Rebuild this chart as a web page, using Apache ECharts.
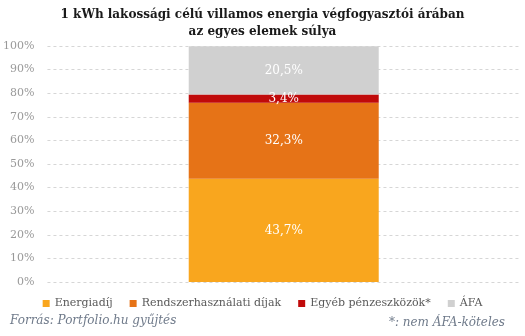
<!DOCTYPE html>
<html>
<head>
<meta charset="utf-8">
<script src="https://cdn.jsdelivr.net/npm/echarts@6/dist/echarts.min.js"></script>
<style>
  html, body { margin: 0; padding: 0; background: #fff; }
  #chart { width: 525px; height: 336px; }
</style>
</head>
<body>
<div id="chart"></div>
<script>
// Share of each price component in 1 kWh of household electricity (%)
const categories = ['1 kWh'];
const seriesNames = ['Energiadíj', 'Rendszerhasználati díjak', 'Egyéb pénzeszközök*', 'ÁFA'];
const energiadij = [43.7];
const rendszerhasznalati = [32.3];
const egyeb = [3.4];
const afa = [20.5];
const yTicks = [0, 10, 20, 30, 40, 50, 60, 70, 80, 90, 100];

const colors = ['#F9A61E', '#E67317', '#C00A0A', '#D0D0D0'];
const serif = '"DejaVu Serif", "Liberation Serif", serif';

const values = [energiadij, rendszerhasznalati, egyeb, afa];

const chart = echarts.init(document.getElementById('chart'), null, { renderer: 'canvas' });

chart.setOption({
  animation: false,
  textStyle: { fontFamily: serif },
  title: {
    text: '1 kWh lakossági célú villamos energia végfogyasztói árában\naz egyes elemek súlya',
    left: 'center',
    top: 1,
    textStyle: {
      fontFamily: serif,
      fontSize: 12,
      fontWeight: 'bold',
      color: '#1a1a1a',
      lineHeight: 17
    }
  },
  legend: {
    data: seriesNames,
    top: 293,
    left: 'center',
    itemWidth: 7,
    itemHeight: 7,
    itemGap: 17,
    icon: 'rect',
    textStyle: { fontFamily: serif, fontSize: 11, color: '#595959' }
  },
  grid: { left: 43, right: 5, top: 46, bottom: 54 },
  xAxis: {
    type: 'category',
    data: categories,
    axisLine: { show: false },
    axisTick: { show: false },
    axisLabel: { show: false }
  },
  yAxis: {
    type: 'value',
    min: yTicks[0],
    max: yTicks[yTicks.length - 1],
    interval: 10,
    axisLine: { show: false },
    axisTick: { show: false },
    axisLabel: {
      formatter: '{value}%',
      fontFamily: serif,
      fontSize: 11,
      color: '#999999',
      margin: 13
    },
    splitLine: { lineStyle: { color: '#d6d6d6', type: [3, 3], width: 1 } }
  },
  series: seriesNames.map((name, i) => ({
    name: name,
    type: 'bar',
    stack: 'total',
    barWidth: 190,
    data: values[i],
    itemStyle: { color: colors[i] },
    label: {
      show: true,
      position: 'inside',
      formatter: p => String(p.value).replace('.', ',') + '%',
      fontFamily: serif,
      fontSize: 12,
      color: '#ffffff'
    }
  })),
  graphic: [
    {
      type: 'text',
      left: 10,
      top: 315,
      style: {
        text: 'Forrás: Portfolio.hu gyűjtés',
        fontFamily: serif,
        fontStyle: 'italic',
        fontSize: 12,
        fill: '#6f7a8a'
      }
    },
    {
      type: 'text',
      right: 20,
      top: 317,
      style: {
        text: '*: nem ÁFA-köteles',
        fontFamily: serif,
        fontStyle: 'italic',
        fontSize: 12,
        fill: '#6f7a8a'
      }
    }
  ]
});
</script>
</body>
</html>
